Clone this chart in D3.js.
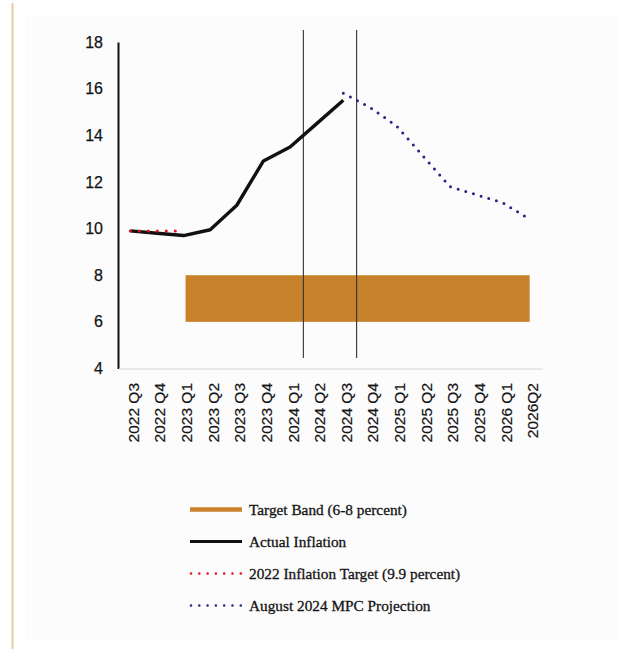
<!DOCTYPE html>
<html>
<head>
<meta charset="utf-8">
<script src="https://cdn.jsdelivr.net/npm/d3@7"></script>
<style>
  html, body { margin: 0; padding: 0; background: #ffffff; }
  svg { display: block; }
</style>
</head>
<body>
<svg id="chart" width="627" height="649"></svg>
<script>
// Quarters on the horizontal axis
const quarters = ["2022 Q3", "2022 Q4", "2023 Q1", "2023 Q2", "2023 Q3", "2023 Q4",
  "2024 Q1", "2024 Q2", "2024 Q3", "2024 Q4", "2025 Q1", "2025 Q2",
  "2025 Q3", "2025 Q4", "2026 Q1", "2026Q2"];

// Headline inflation, percent
const actualQuarters = ["2022 Q3", "2022 Q4", "2023 Q1", "2023 Q2", "2023 Q3", "2023 Q4",
  "2024 Q1", "2024 Q2", "2024 Q3"];
const actualValues = [9.9, 9.8, 9.7, 9.95, 11.0, 12.9, 13.5, 14.5, 15.5];

// 2022 inflation target
const targetQuarters = ["2022 Q3", "2022 Q4", "2023 Q1"];
const targetValues = [9.9, 9.9, 9.9];

// August 2024 MPC projection
const projQuarters = ["2024 Q3", "2024 Q4", "2025 Q1", "2025 Q2", "2025 Q3", "2025 Q4",
  "2026 Q1", "2026Q2"];
const projValues = [15.8, 15.2, 14.4, 13.1, 11.8, 11.45, 11.1, 10.4];

// Medium-term target band (6-8 percent)
const bandRange = [6, 8];
const bandQuarters = ["2023 Q1", "2026Q2"];

// Vertical markers placed at the start of these quarters
const markerQuarters = ["2024 Q2", "2024 Q4"];

const yTicks = [4, 6, 8, 10, 12, 14, 16, 18];

const legendItems = [
  { label: "Target Band (6-8 percent)", kind: "band" },
  { label: "Actual Inflation", kind: "actual" },
  { label: "2022 Inflation Target (9.9 percent)", kind: "target" },
  { label: "August 2024 MPC Projection", kind: "proj" }
];

const colors = {
  band: "#c8822b",
  actual: "#111111",
  target: "#e3141c",
  proj: "#2b2484",
  marker: "#333333",
  frame: "#ebc99f",
  text: "#141414"
};

const svg = d3.select("#chart");

// Page frame: thin accent rule and a faint panel
svg.append("line")
  .attr("x1", 12.5).attr("x2", 12.5).attr("y1", 3).attr("y2", 649)
  .attr("stroke", colors.frame).attr("stroke-width", 2);
svg.append("rect")
  .attr("x", 25).attr("y", 15).attr("width", 593).attr("height", 625)
  .attr("fill", "#fcfcfc");

const x = d3.scaleBand().domain(quarters).range([117, 543]);
const xc = q => x(q) + x.bandwidth() / 2;
const y = d3.scaleLinear().domain([4, 18]).range([368.5, 42]);

// Target band
svg.append("rect")
  .attr("x", xc(bandQuarters[0]) + 2)
  .attr("width", xc(bandQuarters[1]) - xc(bandQuarters[0]) - 2)
  .attr("y", y(bandRange[1]))
  .attr("height", y(bandRange[0]) - y(bandRange[1]))
  .attr("fill", colors.band);

// Vertical markers
svg.selectAll("line.marker").data(markerQuarters).enter().append("line")
  .attr("class", "marker")
  .attr("x1", d => x(d)).attr("x2", d => x(d))
  .attr("y1", 30).attr("y2", 358)
  .attr("stroke", colors.marker).attr("stroke-width", 1.1);

// Axes
const yAxis = d3.axisLeft(y).tickValues(yTicks).tickSize(0).tickPadding(15).tickFormat(d3.format("d"));
const gy = svg.append("g").attr("transform", "translate(118,0)").call(yAxis);
gy.select(".domain").attr("stroke", "#111").attr("stroke-width", 2);
gy.selectAll("text")
  .attr("font-family", "Liberation Sans, Arial, sans-serif")
  .attr("font-size", 16).attr("fill", colors.text)
  .attr("stroke", colors.text).attr("stroke-width", 0.25);

const xAxis = d3.axisBottom(x).tickSize(0).tickPadding(0);
const gx = svg.append("g").attr("transform", "translate(0,369)").call(xAxis);
gx.select(".domain").attr("stroke", "#e2e2e2").attr("stroke-width", 1.5)
  .attr("d", "M119,0H543");
gx.selectAll("text")
  .attr("font-family", "Liberation Sans, Arial, sans-serif")
  .attr("font-size", 15.5).attr("fill", colors.text)
  .attr("stroke", colors.text).attr("stroke-width", 0.2)
  .attr("text-anchor", "end")
  .attr("transform", "translate(3,14) rotate(-90)")
  .attr("dx", 0).attr("dy", "0.35em").attr("y", 0);

// Series lines
const line = d3.line().x(d => xc(d[0])).y(d => y(d[1]));

svg.append("path")
  .datum(actualQuarters.map((q, i) => [q, actualValues[i]]))
  .attr("d", line).attr("fill", "none")
  .attr("stroke", colors.actual).attr("stroke-width", 3.4)
  .attr("stroke-linejoin", "round");

svg.append("path")
  .datum(targetQuarters.map((q, i) => [q, targetValues[i]]))
  .attr("d", line).attr("fill", "none")
  .attr("stroke", colors.target).attr("stroke-width", 3)
  .attr("stroke-linecap", "round").attr("stroke-dasharray", "0 9");

svg.append("path")
  .datum(projQuarters.map((q, i) => [q, projValues[i]]))
  .attr("d", line).attr("fill", "none")
  .attr("stroke", colors.proj).attr("stroke-width", 3)
  .attr("stroke-linecap", "round").attr("stroke-dasharray", "0 8");

// Legend
const legend = svg.append("g").attr("transform", "translate(190,509.5)");
const rows = legend.selectAll("g").data(legendItems).enter().append("g")
  .attr("transform", (d, i) => `translate(0,${i * 32})`);

rows.each(function (d) {
  const g = d3.select(this);
  if (d.kind === "band") {
    g.append("line").attr("x1", 0).attr("x2", 52).attr("y1", 0).attr("y2", 0)
      .attr("stroke", colors.band).attr("stroke-width", 4.5);
  } else if (d.kind === "actual") {
    g.append("line").attr("x1", 0).attr("x2", 52).attr("y1", 0).attr("y2", 0)
      .attr("stroke", colors.actual).attr("stroke-width", 3.2);
  } else {
    g.append("line").attr("x1", 1).attr("x2", 52).attr("y1", 0).attr("y2", 0)
      .attr("stroke", colors[d.kind]).attr("stroke-width", 2.6)
      .attr("stroke-linecap", "round").attr("stroke-dasharray", "0 8.3");
  }
  g.append("text").attr("x", 59).attr("y", 0).attr("dy", "0.35em")
    .attr("font-family", "Liberation Serif, DejaVu Serif, serif")
    .attr("font-size", 15.3).attr("fill", colors.text)
    .attr("stroke", colors.text).attr("stroke-width", 0.3)
    .text(d.label);
});
</script>
</body>
</html>
